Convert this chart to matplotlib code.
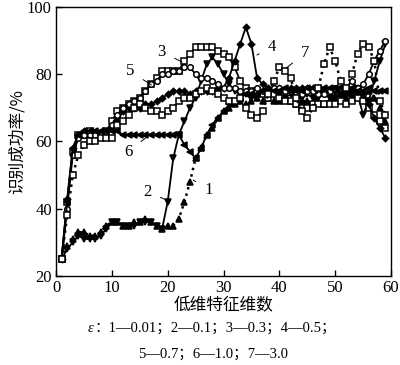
import matplotlib
matplotlib.use("Agg")
import matplotlib.pyplot as plt
import numpy as np

x = list(range(1, 60))

s1 = [25, 29, 31, 33, 33, 32, 32, 33, 35, 36, 36, 35, 35, 36, 36, 37, 36, 35, 34, 35,
      35, 37, 42, 48, 55, 58, 62, 64, 67, 69, 70, 71, 72, 71, 72, 73, 72, 73, 72, 72,
      73, 72, 71, 72, 72, 71, 72, 71, 72, 73, 74, 73, 75, 76, 74, 75, 73, 70, 66]
s2 = [25, 28, 30, 32, 31, 31, 31, 32, 34, 36, 36, 35, 35, 35, 36, 36, 36, 35, 34, 42,
      55, 62, 66, 70, 73, 78, 83, 85, 83, 80, 77, 75, 74, 74, 73, 73, 74, 73, 74, 74,
      73, 74, 73, 73, 74, 73, 73, 74, 73, 73, 74, 74, 73, 74, 68, 72, 78, 84, 89]
s3 = [25, 42, 57, 62, 62, 63, 62, 62, 63, 66, 69, 70, 71, 72, 73, 75, 77, 79, 81, 81,
      81, 81, 84, 86, 88, 88, 88, 88, 87, 86, 85, 82, 78, 76, 75, 75, 74, 73, 74, 73,
      72, 72, 71, 70, 70, 71, 71, 71, 71, 71, 72, 71, 72, 73, 72, 70, 68, 66, 64]
s4 = [25, 43, 58, 62, 63, 62, 62, 62, 62, 64, 66, 69, 70, 70, 70, 71, 71, 72, 73, 74,
      75, 75, 75, 74, 75, 75, 75, 75, 76, 76, 79, 84, 89, 94, 89, 79, 77, 76, 76, 76,
      75, 76, 76, 76, 76, 76, 76, 75, 75, 75, 74, 74, 75, 75, 74, 71, 67, 64, 61]
s5 = [25, 40, 56, 61, 62, 62, 62, 62, 63, 65, 68, 70, 71, 72, 73, 75, 77, 78, 80, 80,
      81, 81, 82, 82, 80, 79, 79, 78, 77, 76, 76, 76, 75, 75, 75, 76, 75, 75, 76, 76,
      75, 75, 74, 74, 75, 75, 74, 74, 75, 76, 76, 76, 78, 76, 77, 80, 84, 87, 90]
s6 = [25, 42, 58, 62, 63, 63, 63, 63, 63, 63, 63, 62, 62, 62, 62, 62, 62, 62, 62, 62,
      62, 62, 59, 57, 55, 58, 62, 65, 67, 69, 71, 72, 73, 74, 74, 74, 75, 75, 75, 75,
      76, 75, 75, 75, 76, 76, 76, 76, 76, 76, 76, 76, 76, 75, 75, 76, 75, 75, 75]
s7 = [25, 38, 50, 56, 59, 60, 60, 61, 61, 61, 65, 66, 68, 70, 71, 70, 69, 69, 68, 69,
      70, 72, 73, 73, 74, 75, 76, 75, 74, 73, 72, 72, 73, 70, 68, 67, 69, 74, 78, 82,
      81, 79, 73, 69, 67, 70, 76, 83, 88, 84, 78, 76, 80, 86, 89, 88, 84, 72, 68]

x_ticks = [0, 10, 20, 30, 40, 50, 60]
y_ticks = [20, 40, 60, 80, 100]
labels = ["1", "2", "3", "4", "5", "6", "7"]

serif = ["Liberation Serif", "DejaVu Serif"]
cjk = ["Noto Sans CJK SC", "DejaVu Sans"]

fig = plt.figure(figsize=(4.0, 3.65), dpi=100)
ax = fig.add_axes([0.14, 0.244, 0.8375, 0.737])

k = dict(color="black", markersize=4.0, markeredgewidth=1.1)
ax.plot(x, s1, linestyle=":", linewidth=1.8, marker="^", **k)
ax.plot(x, s2, linestyle="-", linewidth=1.3, marker="v", **k)
ax.plot(x, s3, linestyle="-", linewidth=1.3, marker="s", markerfacecolor="white", **k)
ax.plot(x, s4, linestyle="-", linewidth=1.3, marker="D", **dict(k, markersize=3.2))
ax.plot(x, s5, linestyle="-", linewidth=1.3, marker="o", markerfacecolor="white", **k)
ax.plot(x, s6, linestyle="-", linewidth=1.3, marker="<", **k)
ax.plot(x, s7, linestyle=":", linewidth=1.8, marker="s", markerfacecolor="white", **k)

ax.set_xlim(0, 60)
ax.set_ylim(20, 100)
ax.set_xticks(x_ticks)
ax.set_yticks(y_ticks)
ax.tick_params(direction="in", length=4, width=1, top=False, right=False,
               labelsize=12, pad=3)
for lab in ax.get_xticklabels() + ax.get_yticklabels():
    lab.set_family(serif)
for sp in ax.spines.values():
    sp.set_linewidth(1.0)

ax.set_xlabel("低维特征维数", family=cjk, fontsize=12, labelpad=1)
ax.set_ylabel("识别成功率/%", family=cjk, fontsize=12, labelpad=1)

annots = [
    ("1", (24.6, 48.5), (27.3, 45.6)),
    ("2", (19.8, 42.6), (16.3, 45.0)),
    ("3", (22.6, 83.6), (18.9, 86.7)),
    ("4", (36.0, 85.7), (38.7, 88.2)),
    ("5", (17.1, 76.8), (13.3, 80.8)),
    ("6", (16.3, 61.4), (13.0, 57.0)),
    ("7", (41.2, 81.8), (44.6, 86.2)),
]
for t, xy, xyt in annots:
    ax.annotate(t, xy=xy, xytext=xyt, family=serif, fontsize=12,
                ha="center", va="center",
                arrowprops=dict(arrowstyle="-", color="black", lw=0.7,
                                shrinkA=5, shrinkB=0))

cap = ["Liberation Serif", "Noto Sans CJK SC"]
fig.text(0.218, 0.101, "ε", family=serif, style="italic", fontsize=10.5,
         ha="left", va="center")
fig.text(0.236, 0.101, "：1—0.01；2—0.1；3—0.3；4—0.5；",
         family=cap, fontsize=10.5, ha="left", va="center")
fig.text(0.345, 0.03, "5—0.7；6—1.0；7—3.0",
         family=cap, fontsize=10.5, ha="left", va="center")

fig.savefig("out.png", dpi=100)
